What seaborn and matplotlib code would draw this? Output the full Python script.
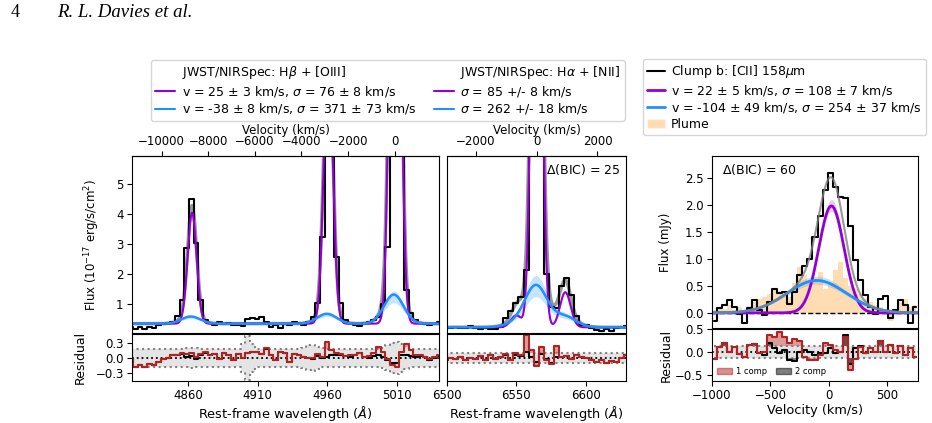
import numpy as np
import matplotlib
matplotlib.use("Agg")
import matplotlib.pyplot as plt
from matplotlib.lines import Line2D
from matplotlib.patches import Patch
import seaborn as sns

sns.set_style("ticks")
plt.rcParams["font.family"] = ["DejaVu Sans"]
plt.rcParams["font.size"] = 8.5
plt.rcParams["axes.edgecolor"] = "black"
plt.rcParams["xtick.color"] = "black"
plt.rcParams["ytick.color"] = "black"
plt.rcParams["text.color"] = "black"
plt.rcParams["axes.labelcolor"] = "black"
plt.rcParams["xtick.major.size"] = 3.5
plt.rcParams["ytick.major.size"] = 3.5
plt.rcParams["xtick.major.pad"] = 2.0
plt.rcParams["ytick.major.pad"] = 2.5
plt.rcParams["axes.labelpad"] = 1.5

C_KMS = 299792.458
PURPLE = "darkviolet"
BLUE = "dodgerblue"
RED = "firebrick"

# ---------------- Hbeta + [OIII] (JWST/NIRSpec) ----------------
hb_wave = 4862.6 + 3.35 * np.arange(-13, 54)
hb_flux = [0.22, 0.15, 0.22, 0.16, 0.22, 0.18, 0.28, 0.33, 0.36, 0.38,
           0.58, 1.13, 2.85, 4.50, 3.02, 1.13, 0.45, 0.35, 0.30, 0.38,
           0.33, 0.36, 0.28, 0.30, 0.26, 0.50, 0.52, 0.48, 0.55, 0.40,
           0.22, 0.30, 0.18, 0.32, 0.30, 0.38, 0.35, 0.30, 0.40, 0.55,
           1.02, 3.24, 9.00, 6.50, 2.57, 1.02, 0.45, 0.35, 0.30, 0.25,
           0.35, 0.40, 0.45, 0.55, 1.00, 2.90, 20.0, 18.0, 7.00, 1.47,
           0.70, 0.45, 0.35, 0.32, 0.30, 0.32, 0.38]
hb_res_1comp = [-0.02, -0.18, -0.14, -0.18, -0.12, -0.15, -0.08, -0.02, 0.00, 0.05,
                0.06, 0.10, 0.08, 0.10, 0.02, 0.08, 0.12, 0.05, 0.08, -0.02,
                0.10, 0.05, -0.05, 0.08, 0.00, 0.10, 0.12, 0.12, 0.08, 0.20,
                0.05, -0.05, 0.12, 0.10, -0.08, 0.08, 0.05, 0.02, 0.00, 0.00,
                0.08, 0.02, 0.32, 0.15, 0.10, 0.08, 0.03, 0.05, 0.05, 0.10,
                0.02, 0.03, 0.10, 0.22, 0.12, -0.02, -0.15, -0.18, 0.12, 0.27,
                0.15, 0.05, 0.06, 0.02, -0.02, 0.02, 0.06]
hb_res_2comp = [-0.02, -0.18, -0.14, -0.18, -0.12, -0.15, -0.08, -0.02, 0.00, 0.05,
                0.06, 0.08, 0.02, 0.04, -0.02, 0.06, 0.10, 0.05, 0.08, -0.02,
                0.10, 0.05, -0.05, 0.08, 0.00, 0.10, 0.12, 0.12, 0.08, 0.18,
                0.05, -0.05, 0.12, 0.10, -0.08, 0.08, 0.05, 0.02, 0.00, -0.02,
                0.04, 0.00, 0.02, 0.05, 0.06, 0.05, 0.03, 0.02, 0.05, 0.10,
                0.02, 0.00, 0.04, 0.05, 0.02, -0.05, -0.10, -0.10, 0.05, 0.05,
                0.03, 0.02, 0.04, 0.02, -0.04, 0.00, 0.04]
hb_err = [0.18, 0.18, 0.18, 0.18, 0.18, 0.18, 0.18, 0.18, 0.18, 0.18,
          0.18, 0.18, 0.19, 0.20, 0.19, 0.18, 0.18, 0.18, 0.18, 0.18,
          0.18, 0.18, 0.18, 0.18, 0.28, 0.45, 0.28, 0.18, 0.18, 0.18,
          0.18, 0.18, 0.18, 0.18, 0.18, 0.18, 0.18, 0.20, 0.25, 0.26,
          0.22, 0.19, 0.18, 0.18, 0.18, 0.18, 0.18, 0.18, 0.18, 0.18,
          0.18, 0.18, 0.18, 0.18, 0.20, 0.25, 0.30, 0.32, 0.28, 0.22,
          0.18, 0.18, 0.18, 0.18, 0.18, 0.18, 0.18]
hb_lines = [4862.68, 4960.30, 5008.24]
hb_cont = 0.34
hb_narrow_amp = [3.70, 9.0, 24.0]
hb_narrow_sig = [3.2, 3.25, 3.3]
hb_broad_amp = [0.24, 0.33, 0.97]
hb_broad_sig = [6.8, 6.9, 7.0]

# ---------------- Halpha + [NII] (JWST/NIRSpec) ----------------
ha_wave = 6560.6 + 3.63 * np.arange(-17, 20)
ha_flux = [0.22, 0.20, 0.22, 0.18, 0.20, 0.25, 0.20, 0.15, 0.18, 0.15,
           0.15, 0.22, 0.52, 0.75, 1.03, 1.24, 2.13, 9.00, 12.0, 8.00,
           2.00, 0.90, 0.85, 1.60, 1.85, 1.30, 0.60, 0.30, 0.28, 0.20,
           0.12, 0.10, 0.15, 0.10, 0.18, 0.22, 0.25]
ha_res_1comp = [-0.05, 0.00, -0.03, 0.02, -0.05, 0.00, -0.03, 0.03, -0.05, 0.05,
                -0.02, 0.02, 0.08, -0.04, 0.10, 0.06, 0.46, 0.15, -0.17, 0.22,
                -0.05, -0.12, 0.24, 0.02, 0.04, -0.03, 0.05, 0.02, 0.00, -0.05,
                -0.08, -0.05, -0.10, -0.06, -0.08, 0.00, 0.05]
ha_res_2comp = [-0.05, 0.00, -0.03, 0.02, -0.05, 0.00, -0.03, 0.03, -0.05, 0.05,
                -0.02, 0.02, 0.05, -0.04, 0.06, 0.04, 0.12, 0.02, -0.08, 0.08,
                -0.03, -0.10, 0.02, 0.02, 0.04, -0.03, 0.05, 0.02, 0.00, -0.05,
                -0.08, -0.05, -0.10, -0.06, -0.08, 0.00, 0.05]
ha_err = 0.10
ha_lines = [6549.86, 6564.61, 6585.27]
ha_cont = 0.22
ha_narrow_amp = [0.40, 21.0, 1.17]
ha_narrow_sig = [3.8, 3.3, 3.8]
ha_broad_amp = [0.12, 1.38, 0.36]
ha_broad_sig = [8.0, 8.0, 8.0]

# ---------------- [CII] 158um clump b (ALMA) ----------------
cii_vel = -978.5 + 43.0 * np.arange(41)
cii_flux = [-0.15, 0.09, 0.15, 0.24, 0.10, -0.03, -0.18, 0.09, 0.23, 0.05,
            -0.04, 0.20, 0.45, 0.36, 0.39, 0.17, 0.39, 0.70, 0.86, 1.00,
            1.40, 1.80, 2.28, 2.59, 2.34, 2.15, 2.12, 1.60, 0.98, 0.60,
            0.33, 0.10, -0.03, 0.25, 0.31, -0.10, 0.06, 0.24, 0.15, -0.18, 0.10]
plume_flux = [0.05, 0.10, 0.08, 0.15, 0.05, 0.10, 0.00, 0.12, 0.20, 0.25,
              0.30, 0.35, 0.45, 0.40, 0.35, 0.30, 0.55, 0.85, 0.70, 0.55,
              0.60, 0.75, 0.45, 0.55, 0.80, 0.95, 0.65, 0.50, 0.45, 0.35,
              0.25, 0.20, 0.15, 0.10, 0.05, -0.15, 0.00, 0.20, 0.25, 0.10, 0.15]
cii_res_2comp = [-0.15, 0.10, 0.20, 0.01, 0.11, -0.05, -0.10, 0.15, 0.18, -0.03,
                 -0.06, 0.19, 0.08, -0.03, 0.04, -0.17, -0.20, 0.00, 0.04, 0.00,
                 -0.06, -0.03, -0.02, 0.08, -0.03, 0.00, 0.37, -0.25, 0.08, 0.12,
                 -0.03, 0.08, 0.00, 0.25, 0.00, 0.15, -0.03, 0.12, -0.06, 0.08, -0.10]
cii_res_1comp = [-0.15, 0.10, 0.20, 0.01, 0.11, -0.05, -0.10, 0.15, 0.18, -0.03,
                 0.00, 0.38, 0.32, 0.43, 0.33, 0.20, 0.28, 0.25, -0.10, -0.17,
                 -0.17, -0.06, 0.19, 0.15, 0.04, 0.00, 0.33, -0.39, -0.15, 0.10,
                 -0.03, 0.08, 0.00, 0.25, 0.00, 0.15, -0.03, 0.12, -0.06, 0.08, -0.10]
cii_err = 0.14
cii_narrow = (1.98, 22.0, 108.0)   # amplitude, v, sigma
cii_broad = (0.60, -104.0, 254.0)
cii_narrow_band = (1.88, 2.10)
cii_broad_band = (0.53, 0.68)


def gauss(x, amp, cen, sig):
    return amp * np.exp(-0.5 * ((x - cen) / sig) ** 2)


def step(ax, x, y, **kw):
    sns.lineplot(x=x, y=y, ax=ax, drawstyle="steps-mid", estimator=None,
                 errorbar=None, legend=False, **kw)


def curve(ax, x, y, **kw):
    sns.lineplot(x=x, y=y, ax=ax, estimator=None, errorbar=None,
                 legend=False, **kw)


def residual_panel(ax, x, r1, r2, err):
    err = np.broadcast_to(np.asarray(err, float), np.shape(x))
    r1 = np.asarray(r1)
    ax.fill_between(x, -err, err, step="mid", color="lightgray", alpha=0.6, lw=0)
    step(ax, x, err, color="gray", lw=1.5, ls=":")
    step(ax, x, -err, color="gray", lw=1.5, ls=":")
    ax.axhline(0, color="k", ls=":", lw=1.3)
    step(ax, x, r2, color="k", lw=1.5)
    ax.fill_between(x, r1, np.clip(r1, -err, err), step="mid", color=RED,
                    alpha=0.45, lw=0)
    step(ax, x, r1, color=RED, lw=1.5)


def line_panel(ax, wave, flux, lines, cont, namp, nsig, bamp, bsig, vn, vb,
               band, xlim):
    grid = np.linspace(xlim[0], xlim[1], 2000)
    narrow = sum(gauss(grid, a, c * (1 + vn / C_KMS), s)
                 for a, c, s in zip(namp, lines, nsig))
    broad = sum(gauss(grid, a, c * (1 + vb / C_KMS), s)
                for a, c, s in zip(bamp, lines, bsig))
    ax.fill_between(grid, cont + band[0] * broad, cont + band[1] * broad,
                    color=BLUE, alpha=0.25, lw=0)
    curve(ax, grid, cont + narrow + broad, color="gray", lw=2.5, alpha=0.8)
    step(ax, wave, flux, color="k", lw=1.5)
    curve(ax, grid, cont + narrow, color=PURPLE, lw=1.5)
    curve(ax, grid, cont + broad, color=BLUE, lw=1.8)
    ax.set_xlim(xlim)


fig = plt.figure(figsize=(9.32, 4.23), dpi=100)
ax1 = fig.add_axes([0.1416, 0.2128, 0.3294, 0.4184])
ax1r = fig.add_axes([0.1416, 0.0993, 0.3294, 0.1111])
ax2 = fig.add_axes([0.4796, 0.2128, 0.1921, 0.4184])
ax2r = fig.add_axes([0.4796, 0.0993, 0.1921, 0.1111])
ax3 = fig.add_axes([0.7639, 0.2246, 0.2210, 0.4066])
ax3r = fig.add_axes([0.7639, 0.0993, 0.2210, 0.1229])

# Hbeta + [OIII]
hb_xlim = (4820, 5040)
line_panel(ax1, hb_wave, hb_flux, hb_lines, hb_cont, hb_narrow_amp, hb_narrow_sig,
           hb_broad_amp, hb_broad_sig, 25, -38, (0.72, 1.12), hb_xlim)
ax1.set_ylim(0.03, 5.93)
ax1.set_yticks([1, 2, 3, 4, 5])
ax1.tick_params(bottom=False, labelbottom=False)
ax1.set_ylabel("Flux ($10^{-17}$ erg/s/cm$^2$)", labelpad=10)
sec1 = ax1.secondary_xaxis("top", functions=(lambda w: (w / 5008.24 - 1) * C_KMS,
                                             lambda v: 5008.24 * (1 + v / C_KMS)))
sec1.set_xticks([-10000, -8000, -6000, -4000, -2000, 0])
sec1.set_xlabel("Velocity (km/s)", labelpad=1)

residual_panel(ax1r, hb_wave, hb_res_1comp, hb_res_2comp, hb_err)
ax1r.set_xlim(hb_xlim)
ax1r.set_ylim(-0.46, 0.48)
ax1r.set_yticks([-0.3, 0.0, 0.3])
ax1r.set_xticks([4860, 4910, 4960, 5010])
ax1r.set_ylabel("Residual", labelpad=6, fontsize=9)
ax1r.set_xlabel(r"Rest-frame wavelength ($\AA$)", fontsize=9.3)

# Halpha + [NII]
ha_xlim = (6500, 6629)
line_panel(ax2, ha_wave, ha_flux, ha_lines, ha_cont, ha_narrow_amp, ha_narrow_sig,
           ha_broad_amp, ha_broad_sig, 0, -20, (0.72, 1.22), ha_xlim)
ax2.set_ylim(0.03, 5.93)
ax2.tick_params(left=False, labelleft=False, bottom=False, labelbottom=False)
ax2.text(0.97, 0.965, r"$\Delta$(BIC) = 25", transform=ax2.transAxes,
         ha="right", va="top", fontsize=9)
sec2 = ax2.secondary_xaxis("top", functions=(lambda w: (w / 6564.61 - 1) * C_KMS,
                                             lambda v: 6564.61 * (1 + v / C_KMS)))
sec2.set_xticks([-2000, 0, 2000])
sec2.set_xlabel("Velocity (km/s)", labelpad=1)

residual_panel(ax2r, ha_wave, ha_res_1comp, ha_res_2comp, ha_err)
ax2r.set_xlim(ha_xlim)
ax2r.set_ylim(-0.46, 0.48)
ax2r.tick_params(left=False, labelleft=False)
ax2r.set_xticks([6500, 6550, 6600])
ax2r.set_xlabel(r"Rest-frame wavelength ($\AA$)", fontsize=9.3)

# [CII]
v_xlim = (-1000, 762)
vgrid = np.linspace(v_xlim[0], v_xlim[1], 1500)
pn = gauss(vgrid, *cii_narrow)
pb = gauss(vgrid, *cii_broad)
ax3.fill_between(vgrid, gauss(vgrid, cii_narrow_band[0], *cii_narrow[1:]),
                 gauss(vgrid, cii_narrow_band[1], *cii_narrow[1:]),
                 color=PURPLE, alpha=0.2, lw=0)
ax3.fill_between(vgrid, gauss(vgrid, cii_broad_band[0], *cii_broad[1:]),
                 gauss(vgrid, cii_broad_band[1], *cii_broad[1:]),
                 color=BLUE, alpha=0.25, lw=0)
ax3.axhline(0, color="k", ls="--", lw=1.0)
step(ax3, cii_vel, cii_flux, color="k", lw=1.5)
curve(ax3, vgrid, pn, color=PURPLE, lw=2)
curve(ax3, vgrid, pb, color=BLUE, lw=2)
curve(ax3, vgrid, pn + pb, color="gray", lw=1.5, alpha=0.8)
ax3.fill_between(cii_vel, 0, plume_flux, step="mid", color="darkorange",
                 alpha=0.3, lw=0)
ax3.set_xlim(v_xlim)
ax3.set_ylim(-0.28, 2.905)
ax3.set_yticks([0.0, 0.5, 1.0, 1.5, 2.0, 2.5])
ax3.tick_params(bottom=False, labelbottom=False)
ax3.set_ylabel("Flux (mJy)", labelpad=9)
ax3.text(0.05, 0.965, r"$\Delta$(BIC) = 60", transform=ax3.transAxes,
         ha="left", va="top", fontsize=9)

residual_panel(ax3r, cii_vel, cii_res_1comp, cii_res_2comp, cii_err)
r2 = np.asarray(cii_res_2comp)
ax3r.fill_between(cii_vel, r2, np.clip(r2, -cii_err, cii_err), step="mid",
                  color="k", alpha=0.5, lw=0)
ax3r.set_xlim(v_xlim)
ax3r.set_ylim(-0.63, 0.5)
ax3r.set_yticks([-0.5, 0.0, 0.5])
ax3r.set_xticks([-1000, -500, 0, 500])
ax3r.set_ylabel("Residual", fontsize=9)
ax3r.set_xlabel("Velocity (km/s)", fontsize=9.3)
ax3r.legend(handles=[Patch(facecolor=RED, edgecolor=RED, alpha=0.5),
                     Patch(facecolor="k", edgecolor="k", alpha=0.5)],
            labels=["1 comp", "2 comp"], ncol=2, fontsize=6, loc="lower left",
            frameon=False, handlelength=1.8, handletextpad=0.5,
            columnspacing=1.0, borderaxespad=0.2)

# legends
blank = Line2D([], [], color="none")
left_handles = [blank, Line2D([], [], color=PURPLE, lw=1.5),
                Line2D([], [], color=BLUE, lw=1.5),
                blank, Line2D([], [], color=PURPLE, lw=1.5),
                Line2D([], [], color=BLUE, lw=1.5)]
left_labels = [r"JWST/NIRSpec: H$\beta$ + [OIII]",
               r"v = 25 $\pm$ 3 km/s, $\sigma$ = 76 $\pm$ 8 km/s",
               r"v = -38 $\pm$ 8 km/s, $\sigma$ = 371 $\pm$ 73 km/s",
               r"JWST/NIRSpec: H$\alpha$ + [NII]",
               r"$\sigma$ = 85 +/- 8 km/s",
               r"$\sigma$ = 262 +/- 18 km/s"]
fig.legend(left_handles, left_labels, ncol=2, loc="upper left",
           bbox_to_anchor=(0.162, 0.858), borderaxespad=0, fontsize=9,
           handlelength=1.6, handletextpad=0.5, labelspacing=0.2,
           columnspacing=1.4, borderpad=0.35)

right_handles = [Line2D([], [], color="k", lw=1.5),
                 Line2D([], [], color=PURPLE, lw=2),
                 Line2D([], [], color=BLUE, lw=2),
                 Patch(facecolor="darkorange", alpha=0.3)]
right_labels = [r"Clump b: [CII] 158$\mu$m",
                r"v = 22 $\pm$ 5 km/s, $\sigma$ = 108 $\pm$ 7 km/s",
                r"v = -104 $\pm$ 49 km/s, $\sigma$ = 254 $\pm$ 37 km/s",
                "Plume"]
fig.legend(right_handles, right_labels, loc="upper left",
           bbox_to_anchor=(0.690, 0.861), borderaxespad=0, fontsize=9,
           handlelength=1.4, handletextpad=0.5, labelspacing=0.2,
           borderpad=0.35)

# page header
fig.text(0.011, 0.97, "4", family="Liberation Serif", fontsize=13, va="center")
fig.text(0.061, 0.97, "R. L. Davies et al.", family="Liberation Serif",
         style="italic", fontsize=13.5, va="center")

fig.savefig("out.png", dpi=100)
